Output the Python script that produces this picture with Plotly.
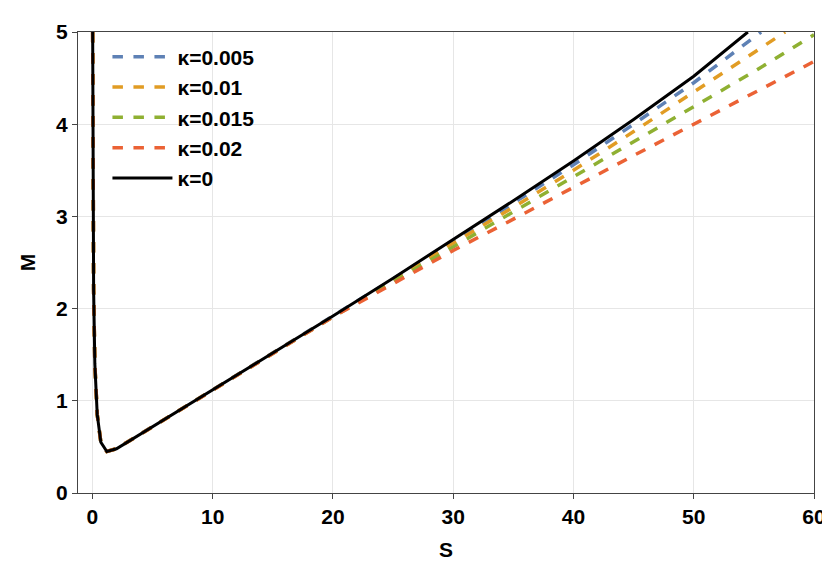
import plotly.graph_objects as go

# values
s_k0 = [0.02, 0.05, 0.1, 0.2, 0.4, 0.7, 1.2, 2, 3, 5, 7.5, 10, 15, 20, 25, 30, 35, 40, 45, 50, 54.5]
m_k0 = [5.0, 3.5, 2.2, 1.4, 0.85, 0.55, 0.45, 0.48, 0.56, 0.72, 0.92, 1.12, 1.52, 1.92, 2.33, 2.75, 3.17, 3.6, 4.05, 4.52, 5.0]

s_common = [0.02, 0.05, 0.1, 0.2, 0.4, 0.7, 1.2, 2, 3, 5, 7.5, 10, 15, 20]
m_common = [5.0, 3.5, 2.2, 1.4, 0.85, 0.55, 0.45, 0.48, 0.56, 0.72, 0.92, 1.12, 1.52, 1.91]

s_tail = {
    "0.005": [25, 30, 35, 40, 45, 50, 55.6],
    "0.01": [25, 30, 35, 40, 45, 50, 57.6],
    "0.015": [25, 30, 35, 40, 45, 50, 55, 60],
    "0.02": [25, 30, 35, 40, 45, 50, 55, 60],
}
m_tail = {
    "0.005": [2.32, 2.73, 3.14, 3.56, 4.0, 4.45, 5.0],
    "0.01": [2.31, 2.71, 3.1, 3.5, 3.92, 4.35, 5.0],
    "0.015": [2.29, 2.67, 3.04, 3.42, 3.8, 4.18, 4.57, 4.97],
    "0.02": [2.27, 2.63, 2.97, 3.32, 3.66, 4.0, 4.34, 4.68],
}
colors = {"0.005": "#5e81b5", "0.01": "#e19c24", "0.015": "#8fb032", "0.02": "#eb6235"}

fig = go.Figure()
for k in ["0.005", "0.01", "0.015", "0.02"]:
    fig.add_trace(go.Scatter(
        x=s_common + s_tail[k], y=m_common + m_tail[k], mode="lines",
        line=dict(color=colors[k], width=3.5, dash="dash"),
        name="<b>κ=" + k + "</b>"))
fig.add_trace(go.Scatter(x=s_k0, y=m_k0, mode="lines",
                         line=dict(color="black", width=3),
                         name="<b>κ=0</b>"))

axis_common = dict(showgrid=True, gridcolor="#e6e6e6", zeroline=False, showline=True,
                   linecolor="#444", mirror=True, ticks="outside", tickcolor="#444",
                   tickfont=dict(size=21, color="black", weight="bold"))
fig.update_layout(
    width=830, height=577, plot_bgcolor="white", paper_bgcolor="white",
    font=dict(family="Liberation Sans", color="black"),
    margin=dict(l=70, r=15, t=18, b=92),
    xaxis=dict(range=[-1.2, 60], tickvals=[0, 10, 20, 30, 40, 50, 60],
               title=dict(text="<b>S</b>", font=dict(size=21)), **axis_common),
    yaxis=dict(range=[0, 5], tickvals=[0, 1, 2, 3, 4, 5],
               title=dict(text="<b>M</b>", font=dict(size=21), standoff=14), **axis_common),
    legend=dict(x=0.04, y=0.99, bgcolor="rgba(255,255,255,0)", font=dict(size=21),
                itemwidth=60, tracegroupgap=22),
)
fig.write_html("out.html")
